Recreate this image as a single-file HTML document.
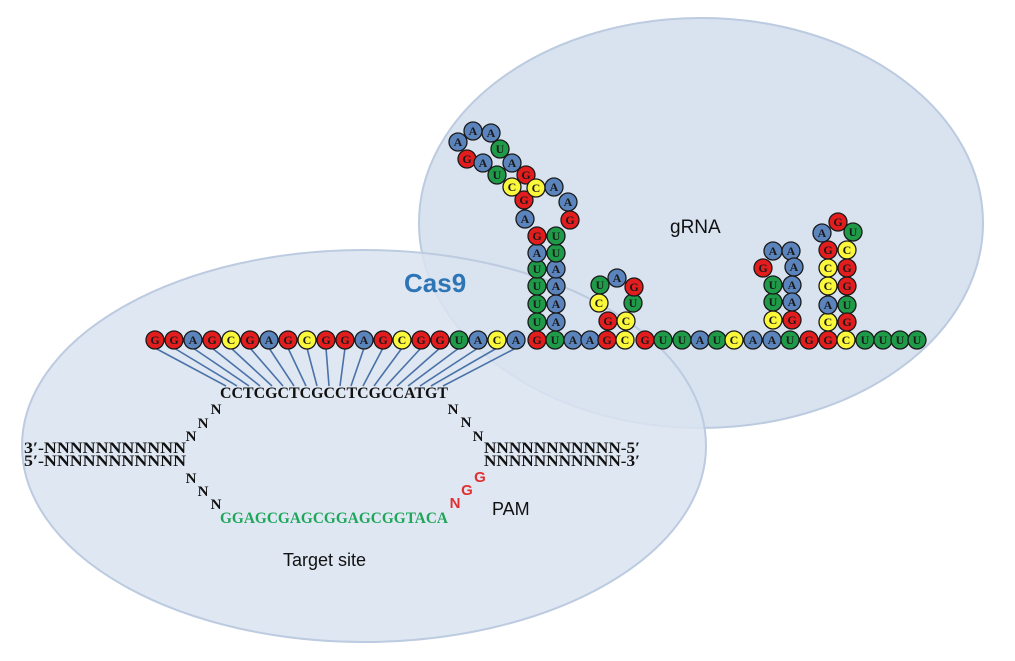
<!DOCTYPE html>
<html><head><meta charset="utf-8"><style>
html,body{margin:0;padding:0;background:#fff}
svg{display:block}
.r{fill:#e31d1d}.b{fill:#5b84bd}.g{fill:#1f9a48}.y{fill:#fbf83c}
circle{stroke:#1a1a1a;stroke-width:1.3}
.t{font-family:"Liberation Serif",serif;font-weight:bold;font-size:12px;text-anchor:middle;fill:#1a1a1a}
.m{font-family:"Liberation Serif",serif;font-weight:bold;fill:#111}
.s{font-family:"Liberation Sans",sans-serif}
</style></head><body>
<svg width="1015" height="661" viewBox="0 0 1015 661" xmlns="http://www.w3.org/2000/svg">
<ellipse cx="701" cy="223" rx="282" ry="205" fill="#d9e3f0" stroke="#bccbe0" stroke-width="2"/>
<ellipse cx="364" cy="446" rx="342" ry="196" fill="#d9e3f0" fill-opacity="0.85" stroke="#bccbe0" stroke-width="2"/>
<g stroke="#4a72a8" stroke-width="1.6">
<line x1="155" y1="348" x2="226" y2="386"/><line x1="174" y1="348" x2="237" y2="386"/><line x1="193" y1="348" x2="249" y2="386"/><line x1="212" y1="348" x2="260" y2="386"/><line x1="231" y1="348" x2="272" y2="386"/><line x1="250" y1="348" x2="283" y2="386"/><line x1="269" y1="348" x2="294" y2="386"/><line x1="288" y1="348" x2="306" y2="386"/><line x1="307" y1="348" x2="317" y2="386"/><line x1="326" y1="348" x2="329" y2="386"/><line x1="345" y1="348" x2="340" y2="386"/><line x1="364" y1="348" x2="351" y2="386"/><line x1="383" y1="348" x2="363" y2="386"/><line x1="402" y1="348" x2="374" y2="386"/><line x1="421" y1="348" x2="386" y2="386"/><line x1="440" y1="348" x2="397" y2="386"/><line x1="459" y1="348" x2="408" y2="386"/><line x1="478" y1="348" x2="420" y2="386"/><line x1="497" y1="348" x2="431" y2="386"/><line x1="516" y1="348" x2="443" y2="386"/>
</g>
<text x="404" y="292" class="s" font-size="26" font-weight="bold" fill="#2e75b6">Cas9</text>
<text x="670" y="233" class="s" font-size="19" fill="#111">gRNA</text>
<text x="492" y="515" class="s" font-size="18" fill="#111">PAM</text>
<text x="283" y="566" class="s" font-size="18" fill="#111">Target site</text>
<text x="220" y="398" class="m" font-size="16" textLength="228" lengthAdjust="spacingAndGlyphs">CCTCGCTCGCCTCGCCATGT</text>
<text x="220" y="523" class="m" font-size="16" style="fill:#1fa65a" textLength="228" lengthAdjust="spacingAndGlyphs">GGAGCGAGCGGAGCGGTACA</text>
<g class="m" font-size="15" text-anchor="middle">
<text x="216" y="414">N</text><text x="203" y="428">N</text><text x="191" y="441">N</text>
<text x="191" y="483">N</text><text x="203" y="496">N</text><text x="216" y="509">N</text>
<text x="453" y="414">N</text><text x="466" y="427">N</text><text x="478" y="441">N</text>
</g>
<text x="24" y="453" class="m" font-size="16" textLength="162" lengthAdjust="spacingAndGlyphs">3′-NNNNNNNNNNN</text>
<text x="24" y="466" class="m" font-size="16" textLength="162" lengthAdjust="spacingAndGlyphs">5′-NNNNNNNNNNN</text>
<text x="484" y="453" class="m" font-size="16" textLength="156" lengthAdjust="spacingAndGlyphs">NNNNNNNNNNN-5′</text>
<text x="484" y="466" class="m" font-size="16" textLength="156" lengthAdjust="spacingAndGlyphs">NNNNNNNNNNN-3′</text>
<g class="s" font-size="15" font-weight="bold" fill="#e03030" text-anchor="middle">
<text x="480" y="482">G</text><text x="467" y="495">G</text><text x="455" y="508">N</text>
</g>
<g>
<circle class="r" cx="155" cy="340" r="9"/><text class="t" x="155" y="344">G</text>
<circle class="r" cx="174" cy="340" r="9"/><text class="t" x="174" y="344">G</text>
<circle class="b" cx="193" cy="340" r="9"/><text class="t" x="193" y="344">A</text>
<circle class="r" cx="212" cy="340" r="9"/><text class="t" x="212" y="344">G</text>
<circle class="y" cx="231" cy="340" r="9"/><text class="t" x="231" y="344">C</text>
<circle class="r" cx="250" cy="340" r="9"/><text class="t" x="250" y="344">G</text>
<circle class="b" cx="269" cy="340" r="9"/><text class="t" x="269" y="344">A</text>
<circle class="r" cx="288" cy="340" r="9"/><text class="t" x="288" y="344">G</text>
<circle class="y" cx="307" cy="340" r="9"/><text class="t" x="307" y="344">C</text>
<circle class="r" cx="326" cy="340" r="9"/><text class="t" x="326" y="344">G</text>
<circle class="r" cx="345" cy="340" r="9"/><text class="t" x="345" y="344">G</text>
<circle class="b" cx="364" cy="340" r="9"/><text class="t" x="364" y="344">A</text>
<circle class="r" cx="383" cy="340" r="9"/><text class="t" x="383" y="344">G</text>
<circle class="y" cx="402" cy="340" r="9"/><text class="t" x="402" y="344">C</text>
<circle class="r" cx="421" cy="340" r="9"/><text class="t" x="421" y="344">G</text>
<circle class="r" cx="440" cy="340" r="9"/><text class="t" x="440" y="344">G</text>
<circle class="g" cx="459" cy="340" r="9"/><text class="t" x="459" y="344">U</text>
<circle class="b" cx="478" cy="340" r="9"/><text class="t" x="478" y="344">A</text>
<circle class="y" cx="497" cy="340" r="9"/><text class="t" x="497" y="344">C</text>
<circle class="b" cx="516" cy="340" r="9"/><text class="t" x="516" y="344">A</text>
<circle class="r" cx="537" cy="340" r="9"/><text class="t" x="537" y="344">G</text>
<circle class="g" cx="555" cy="340" r="9"/><text class="t" x="555" y="344">U</text>
<circle class="b" cx="573" cy="340" r="9"/><text class="t" x="573" y="344">A</text>
<circle class="b" cx="590" cy="340" r="9"/><text class="t" x="590" y="344">A</text>
<circle class="r" cx="607" cy="340" r="9"/><text class="t" x="607" y="344">G</text>
<circle class="y" cx="625" cy="340" r="9"/><text class="t" x="625" y="344">C</text>
<circle class="r" cx="645" cy="340" r="9"/><text class="t" x="645" y="344">G</text>
<circle class="g" cx="663" cy="340" r="9"/><text class="t" x="663" y="344">U</text>
<circle class="g" cx="682" cy="340" r="9"/><text class="t" x="682" y="344">U</text>
<circle class="b" cx="700" cy="340" r="9"/><text class="t" x="700" y="344">A</text>
<circle class="g" cx="717" cy="340" r="9"/><text class="t" x="717" y="344">U</text>
<circle class="y" cx="734" cy="340" r="9"/><text class="t" x="734" y="344">C</text>
<circle class="b" cx="753" cy="340" r="9"/><text class="t" x="753" y="344">A</text>
<circle class="b" cx="772" cy="340" r="9"/><text class="t" x="772" y="344">A</text>
<circle class="g" cx="790" cy="340" r="9"/><text class="t" x="790" y="344">U</text>
<circle class="r" cx="809" cy="340" r="9"/><text class="t" x="809" y="344">G</text>
<circle class="r" cx="828" cy="340" r="9"/><text class="t" x="828" y="344">G</text>
<circle class="y" cx="846" cy="340" r="9"/><text class="t" x="846" y="344">C</text>
<circle class="g" cx="865" cy="340" r="9"/><text class="t" x="865" y="344">U</text>
<circle class="g" cx="883" cy="340" r="9"/><text class="t" x="883" y="344">U</text>
<circle class="g" cx="900" cy="340" r="9"/><text class="t" x="900" y="344">U</text>
<circle class="g" cx="917" cy="340" r="9"/><text class="t" x="917" y="344">U</text>
<circle class="g" cx="537" cy="322" r="9"/><text class="t" x="537" y="326">U</text>
<circle class="g" cx="537" cy="304" r="9"/><text class="t" x="537" y="308">U</text>
<circle class="g" cx="537" cy="286" r="9"/><text class="t" x="537" y="290">U</text>
<circle class="g" cx="537" cy="269" r="9"/><text class="t" x="537" y="273">U</text>
<circle class="b" cx="537" cy="253" r="9"/><text class="t" x="537" y="257">A</text>
<circle class="r" cx="537" cy="236" r="9"/><text class="t" x="537" y="240">G</text>
<circle class="b" cx="556" cy="322" r="9"/><text class="t" x="556" y="326">A</text>
<circle class="b" cx="556" cy="304" r="9"/><text class="t" x="556" y="308">A</text>
<circle class="b" cx="556" cy="286" r="9"/><text class="t" x="556" y="290">A</text>
<circle class="b" cx="556" cy="269" r="9"/><text class="t" x="556" y="273">A</text>
<circle class="g" cx="556" cy="253" r="9"/><text class="t" x="556" y="257">U</text>
<circle class="g" cx="556" cy="236" r="9"/><text class="t" x="556" y="240">U</text>
<circle class="b" cx="525" cy="219" r="9"/><text class="t" x="525" y="223">A</text>
<circle class="r" cx="524" cy="200" r="9"/><text class="t" x="524" y="204">G</text>
<circle class="y" cx="512" cy="187" r="9"/><text class="t" x="512" y="191">C</text>
<circle class="g" cx="497" cy="175" r="9"/><text class="t" x="497" y="179">U</text>
<circle class="r" cx="467" cy="159" r="9"/><text class="t" x="467" y="163">G</text>
<circle class="b" cx="458" cy="142" r="9"/><text class="t" x="458" y="146">A</text>
<circle class="b" cx="473" cy="131" r="9"/><text class="t" x="473" y="135">A</text>
<circle class="b" cx="491" cy="133" r="9"/><text class="t" x="491" y="137">A</text>
<circle class="g" cx="500" cy="149" r="9"/><text class="t" x="500" y="153">U</text>
<circle class="b" cx="483" cy="163" r="9"/><text class="t" x="483" y="167">A</text>
<circle class="b" cx="512" cy="163" r="9"/><text class="t" x="512" y="167">A</text>
<circle class="r" cx="526" cy="175" r="9"/><text class="t" x="526" y="179">G</text>
<circle class="y" cx="536" cy="188" r="9"/><text class="t" x="536" y="192">C</text>
<circle class="b" cx="554" cy="187" r="9"/><text class="t" x="554" y="191">A</text>
<circle class="b" cx="568" cy="202" r="9"/><text class="t" x="568" y="206">A</text>
<circle class="r" cx="570" cy="220" r="9"/><text class="t" x="570" y="224">G</text>
<circle class="r" cx="608" cy="321" r="9"/><text class="t" x="608" y="325">G</text>
<circle class="y" cx="626" cy="321" r="9"/><text class="t" x="626" y="325">C</text>
<circle class="y" cx="599" cy="303" r="9"/><text class="t" x="599" y="307">C</text>
<circle class="g" cx="633" cy="303" r="9"/><text class="t" x="633" y="307">U</text>
<circle class="g" cx="600" cy="285" r="9"/><text class="t" x="600" y="289">U</text>
<circle class="b" cx="617" cy="278" r="9"/><text class="t" x="617" y="282">A</text>
<circle class="r" cx="634" cy="287" r="9"/><text class="t" x="634" y="291">G</text>
<circle class="y" cx="773" cy="320" r="9"/><text class="t" x="773" y="324">C</text>
<circle class="g" cx="773" cy="302" r="9"/><text class="t" x="773" y="306">U</text>
<circle class="g" cx="773" cy="285" r="9"/><text class="t" x="773" y="289">U</text>
<circle class="r" cx="763" cy="268" r="9"/><text class="t" x="763" y="272">G</text>
<circle class="b" cx="773" cy="251" r="9"/><text class="t" x="773" y="255">A</text>
<circle class="b" cx="791" cy="251" r="9"/><text class="t" x="791" y="255">A</text>
<circle class="b" cx="794" cy="267" r="9"/><text class="t" x="794" y="271">A</text>
<circle class="b" cx="792" cy="285" r="9"/><text class="t" x="792" y="289">A</text>
<circle class="b" cx="792" cy="302" r="9"/><text class="t" x="792" y="306">A</text>
<circle class="r" cx="792" cy="320" r="9"/><text class="t" x="792" y="324">G</text>
<circle class="y" cx="828" cy="322" r="9"/><text class="t" x="828" y="326">C</text>
<circle class="b" cx="828" cy="305" r="9"/><text class="t" x="828" y="309">A</text>
<circle class="y" cx="828" cy="286" r="9"/><text class="t" x="828" y="290">C</text>
<circle class="y" cx="828" cy="268" r="9"/><text class="t" x="828" y="272">C</text>
<circle class="r" cx="828" cy="250" r="9"/><text class="t" x="828" y="254">G</text>
<circle class="b" cx="822" cy="233" r="9"/><text class="t" x="822" y="237">A</text>
<circle class="r" cx="838" cy="222" r="9"/><text class="t" x="838" y="226">G</text>
<circle class="g" cx="853" cy="232" r="9"/><text class="t" x="853" y="236">U</text>
<circle class="y" cx="847" cy="250" r="9"/><text class="t" x="847" y="254">C</text>
<circle class="r" cx="847" cy="268" r="9"/><text class="t" x="847" y="272">G</text>
<circle class="r" cx="847" cy="286" r="9"/><text class="t" x="847" y="290">G</text>
<circle class="g" cx="847" cy="305" r="9"/><text class="t" x="847" y="309">U</text>
<circle class="r" cx="847" cy="322" r="9"/><text class="t" x="847" y="326">G</text>
</g>
</svg>
</body></html>
